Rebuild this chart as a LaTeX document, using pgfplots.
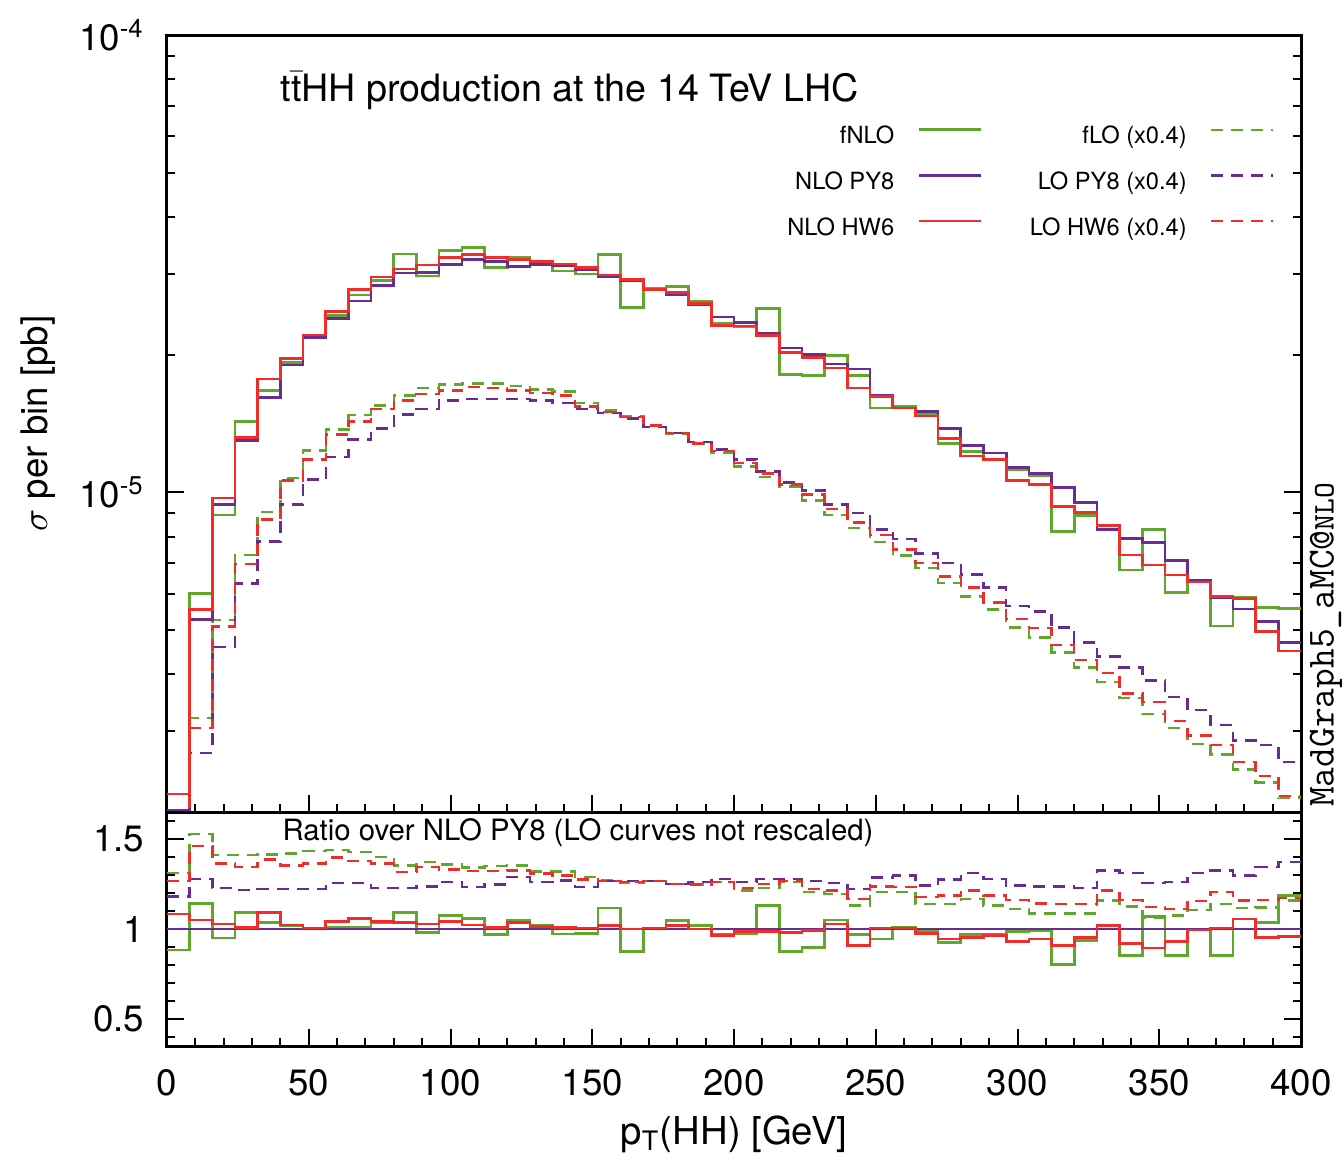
\documentclass[border=0pt]{standalone}
\usepackage{fontspec}
\setmainfont{TeX Gyre Heros}
\usepackage{pgfplots}
\usepackage{pgfplotstable}
\pgfplotsset{compat=1.18}
\definecolor{cgreen}{RGB}{95,168,45}
\definecolor{cpurple}{RGB}{106,44,145}
\definecolor{cred}{RGB}{240,45,40}

\pgfplotstableread{
x fnlo py8 hw6 flo lopy8 lohw6
0 1.78e-6 2.02e-6 2.19e-6 1.06e-6 0.95e-6 1.02e-6
8 6.00e-6 5.27e-6 5.55e-6 3.21e-6 2.69e-6 3.05e-6
16 8.93e-6 9.40e-6 9.72e-6 5.26e-6 4.59e-6 5.09e-6
24 1.43e-5 1.30e-5 1.32e-5 7.30e-6 6.32e-6 6.97e-6
32 1.67e-5 1.61e-5 1.77e-5 9.05e-6 7.81e-6 8.73e-6
40 1.92e-5 1.90e-5 1.96e-5 1.074e-5 9.40e-6 1.062e-5
48 2.21e-5 2.18e-5 2.21e-5 1.236e-5 1.067e-5 1.18e-5
56 2.44e-5 2.40e-5 2.49e-5 1.374e-5 1.195e-5 1.337e-5
64 2.70e-5 2.62e-5 2.78e-5 1.475e-5 1.305e-5 1.43e-5
72 2.91e-5 2.83e-5 2.96e-5 1.55e-5 1.38e-5 1.52e-5
80 3.32e-5 3.02e-5 3.08e-5 1.63e-5 1.48e-5 1.59e-5
88 2.97e-5 3.03e-5 3.14e-5 1.69e-5 1.52e-5 1.64e-5
96 3.38e-5 3.15e-5 3.26e-5 1.72e-5 1.59e-5 1.67e-5
104 3.43e-5 3.23e-5 3.31e-5 1.73e-5 1.60e-5 1.70e-5
112 3.10e-5 3.20e-5 3.26e-5 1.73e-5 1.60e-5 1.69e-5
120 3.26e-5 3.12e-5 3.23e-5 1.71e-5 1.60e-5 1.67e-5
128 3.20e-5 3.15e-5 3.20e-5 1.68e-5 1.59e-5 1.65e-5
136 3.05e-5 3.13e-5 3.16e-5 1.66e-5 1.57e-5 1.63e-5
144 3.00e-5 3.07e-5 3.10e-5 1.57e-5 1.52e-5 1.54e-5
152 3.31e-5 2.96e-5 2.99e-5 1.51e-5 1.49e-5 1.50e-5
160 2.54e-5 2.90e-5 2.92e-5 1.47e-5 1.45e-5 1.46e-5
168 2.80e-5 2.77e-5 2.78e-5 1.40e-5 1.39e-5 1.40e-5
176 2.82e-5 2.70e-5 2.74e-5 1.34e-5 1.35e-5 1.35e-5
184 2.62e-5 2.57e-5 2.59e-5 1.28e-5 1.29e-5 1.28e-5
192 2.34e-5 2.42e-5 2.32e-5 1.22e-5 1.24e-5 1.23e-5
200 2.30e-5 2.35e-5 2.31e-5 1.14e-5 1.18e-5 1.16e-5
208 2.52e-5 2.23e-5 2.20e-5 1.08e-5 1.11e-5 1.10e-5
216 1.81e-5 2.07e-5 2.02e-5 1.03e-5 1.05e-5 1.04e-5
224 1.80e-5 2.00e-5 1.97e-5 9.6e-6 1.01e-5 9.9e-6
232 1.99e-5 1.91e-5 1.87e-5 8.93e-6 9.4e-6 9.2e-6
240 1.80e-5 1.86e-5 1.69e-5 8.36e-6 9.02e-6 8.6e-6
248 1.53e-5 1.63e-5 1.62e-5 7.79e-6 8.29e-6 8.06e-6
256 1.54e-5 1.53e-5 1.53e-5 7.27e-6 7.91e-6 7.5e-6
264 1.48e-5 1.50e-5 1.47e-5 6.83e-6 7.36e-6 7.0e-6
272 1.28e-5 1.38e-5 1.31e-5 6.33e-6 7.0e-6 6.55e-6
280 1.23e-5 1.265e-5 1.20e-5 5.92e-6 6.62e-6 6.2e-6
288 1.18e-5 1.22e-5 1.18e-5 5.55e-6 6.2e-6 5.75e-6
296 1.12e-5 1.135e-5 1.06e-5 5.07e-6 5.65e-6 5.28e-6
304 1.09e-5 1.10e-5 1.04e-5 4.82e-6 5.49e-6 5.05e-6
312 8.22e-6 1.026e-5 9.3e-6 4.47e-6 5.07e-6 4.64e-6
320 8.9e-6 9.5e-6 9.05e-6 4.14e-6 4.7e-6 4.3e-6
328 8.45e-6 8.3e-6 8.45e-6 3.85e-6 4.38e-6 4.03e-6
336 6.76e-6 7.94e-6 7.3e-6 3.55e-6 4.14e-6 3.63e-6
344 8.3e-6 7.76e-6 6.94e-6 3.28e-6 3.88e-6 3.48e-6
352 6.04e-6 7.1e-6 6.6e-6 3.05e-6 3.57e-6 3.16e-6
360 6.38e-6 6.41e-6 6.37e-6 2.82e-6 3.34e-6 2.94e-6
368 5.1e-6 5.89e-6 5.92e-6 2.67e-6 3.1e-6 2.8e-6
376 5.89e-6 5.56e-6 5.87e-6 2.48e-6 2.87e-6 2.57e-6
384 5.6e-6 5.22e-6 4.97e-6 2.32e-6 2.8e-6 2.4e-6
392 5.58e-6 4.7e-6 4.5e-6 2.15e-6 2.57e-6 2.17e-6
400 5.58e-6 4.7e-6 4.5e-6 2.15e-6 2.57e-6 2.17e-6
}\maintab

\pgfplotstableread{
x fnlo py8 hw6 flo lopy8 lohw6
0 0.883 1 1.084 1.311 1.181 1.266
8 1.140 1 1.050 1.527 1.279 1.460
16 0.950 1 1.028 1.410 1.229 1.363
24 1.093 1 1.009 1.410 1.218 1.344
32 1.037 1 1.093 1.415 1.223 1.385
40 1.018 1 1.022 1.419 1.223 1.354
48 1.005 1 1.005 1.434 1.223 1.363
56 1.010 1 1.041 1.438 1.255 1.397
64 1.010 1 1.060 1.428 1.255 1.378
72 1.033 1 1.041 1.400 1.229 1.363
80 1.093 1 1.037 1.354 1.229 1.316
88 0.981 1 1.028 1.372 1.236 1.344
96 1.074 1 1.041 1.357 1.261 1.330
104 1.060 1 1.022 1.341 1.233 1.322
112 0.968 1 1.009 1.350 1.248 1.322
120 1.046 1 1.037 1.354 1.289 1.326
128 1.018 1 1.013 1.320 1.261 1.307
136 0.972 1 1.009 1.320 1.270 1.298
144 0.976 1 1.005 1.289 1.233 1.274
152 1.117 1 1.018 1.270 1.266 1.266
160 0.875 1 1.000 1.255 1.266 1.261
168 1.005 1 1.005 1.266 1.266 1.266
176 1.046 1 1.018 1.251 1.251 1.251
184 1.018 1 1.000 1.246 1.261 1.248
192 0.972 1 0.963 1.261 1.279 1.261
200 0.972 1 0.987 1.214 1.261 1.229
208 1.130 1 0.987 1.229 1.279 1.251
216 0.875 1 0.981 1.261 1.279 1.266
224 0.897 1 0.991 1.205 1.266 1.223
232 1.050 1 1.028 1.195 1.255 1.214
240 0.968 1 0.907 1.130 1.223 1.167
248 0.944 1 1.005 1.205 1.285 1.236
256 1.009 1 1.005 1.205 1.298 1.233
264 0.987 1 0.976 1.140 1.242 1.177
272 0.925 1 0.944 1.140 1.274 1.186
280 0.968 1 0.953 1.168 1.311 1.214
288 0.968 1 0.963 1.130 1.279 1.186
296 0.987 1 0.931 1.112 1.242 1.162
304 0.990 1 0.944 1.087 1.236 1.143
312 0.801 1 0.907 1.087 1.236 1.140
320 0.938 1 0.953 1.087 1.229 1.140
328 1.018 1 1.018 1.158 1.326 1.214
336 0.851 1 0.920 1.125 1.311 1.162
344 1.069 1 0.894 1.061 1.255 1.121
352 0.851 1 0.929 1.074 1.261 1.112
360 0.994 1 0.994 1.106 1.311 1.155
368 0.851 1 1.005 1.140 1.326 1.205
376 1.000 1 1.056 1.117 1.298 1.158
384 1.037 1 0.953 1.120 1.344 1.162
392 1.186 1 0.957 1.158 1.372 1.173
400 1.186 1 0.957 1.158 1.372 1.173
}\ratiotab

\pgfplotsset{
  hist/.style={const plot, no marks, line width=0.8pt},
  histd/.style={const plot, no marks, line width=0.75pt, dash pattern=on 3.6pt off 2.4pt},
  frame/.style={
    scale only axis, width=340.2pt,
    xmin=0, xmax=400,
    axis line style={line width=0.9pt},
    every tick/.style={black, line width=0.6pt},
    major tick length=5.1pt, minor tick length=2.4pt,
    xtick pos=left, ytick pos=both,
    tick label style={font=\fontsize{11}{13}\selectfont},
    yticklabel style={inner sep=0pt, xshift=-6.6pt},
    clip mode=individual,
  },
}

\begin{document}
\begin{tikzpicture}
\begin{axis}[frame, name=main,
  height=233.1pt,
  ymode=log, ymin=2e-6, ymax=1e-4,
  xtick={0,50,...,400}, xticklabels={}, minor x tick num=4,
  ytick={1e-5,1e-4}, yticklabels={10\textsuperscript{-5},10\textsuperscript{-4}},
  minor ytick={2e-6,3e-6,4e-6,5e-6,6e-6,7e-6,8e-6,9e-6,2e-5,3e-5,4e-5,5e-5,6e-5,7e-5,8e-5,9e-5},
  ylabel={$\sigma$ per bin [pb]},
  ylabel style={at={(axis description cs:-0.114,0.5)}, anchor=center, font=\fontsize{11}{13}\selectfont},
  legend columns=2,
  legend plot pos=right,
  legend cell align=right,
  legend image code/.code={\draw[#1] (0pt,2.4pt) -- (18.6pt,2.4pt);},
  legend style={draw=none, fill=none, at={(rel axis cs:0.977,0.883)}, anchor=north east,
    font=\fontsize{7.1}{8.5}\selectfont, inner sep=0pt, row sep=7pt,
    nodes={inner sep=0pt, text height=5.2pt, text depth=1.5pt},
    /tikz/every odd column/.append style={column sep=6.9pt},
    /tikz/every even column/.append style={column sep=14.4pt}},
]
\addplot[hist, cgreen] table[x=x, y=fnlo] {\maintab};
\addlegendentry{fNLO}
\addplot[histd, cgreen] table[x=x, y=flo] {\maintab};
\addlegendentry{fLO (x0.4)}
\addplot[hist, cpurple] table[x=x, y=py8] {\maintab};
\addlegendentry{NLO PY8}
\addplot[histd, cpurple] table[x=x, y=lopy8] {\maintab};
\addlegendentry{LO PY8 (x0.4)}
\addplot[hist, cred] table[x=x, y=hw6] {\maintab};
\addlegendentry{NLO HW6}
\addplot[histd, cred] table[x=x, y=lohw6] {\maintab};
\addlegendentry{LO HW6 (x0.4)}
\node[anchor=base west, inner sep=0pt, font=\fontsize{11.3}{13}\selectfont]
  at (rel axis cs:0.0997,0.914) {t$\bar{\mbox{t}}$HH production at the 14 TeV LHC};
\node[xshift=7.5pt, rotate=90, anchor=center, inner sep=0pt]
  at (rel axis cs:1,0.215) {\ttfamily\fontsize{11.5}{13}\selectfont MadGraph5\_aMC@\fontsize{9}{11}\selectfont NLO};
\coordinate (tl) at (rel axis cs:0,1);
\end{axis}
\begin{axis}[frame,
  at={(main.south west)}, anchor=north west,
  height=70.2pt,
  ymin=0.35, ymax=1.65,
  xtick={0,50,...,400}, minor x tick num=4,
  xticklabels={0,50,100,150,200,250,300,350,400},
  xticklabel style={anchor=center, yshift=-10.9pt},
  ytick={0.5,1,1.5}, yticklabels={0.5,1,1.5},
  minor ytick={0.4,0.6,0.7,0.8,0.9,1.1,1.2,1.3,1.4,1.6},
  xlabel={p\textsubscript{T}(HH) [GeV]},
  xlabel style={at={(axis description cs:0.5,-0.376)}, anchor=center, font=\fontsize{11.5}{13}\selectfont},
]
\addplot[hist, cgreen] table[x=x, y=fnlo] {\ratiotab};
\addplot[histd, cgreen] table[x=x, y=flo] {\ratiotab};
\addplot[hist, cpurple] table[x=x, y=py8] {\ratiotab};
\addplot[histd, cpurple] table[x=x, y=lopy8] {\ratiotab};
\addplot[hist, cred] table[x=x, y=hw6] {\ratiotab};
\addplot[histd, cred] table[x=x, y=lohw6] {\ratiotab};
\node[anchor=base west, inner sep=0pt, font=\fontsize{8.8}{10}\selectfont]
  at (rel axis cs:0.1014,0.878) {Ratio over NLO PY8 (LO curves not rescaled)};
\end{axis}
\pgfresetboundingbox
\path (tl) ++(-50.1pt,10.5pt) rectangle ++(403.2pt,-348.3pt);
\end{tikzpicture}
\end{document}
